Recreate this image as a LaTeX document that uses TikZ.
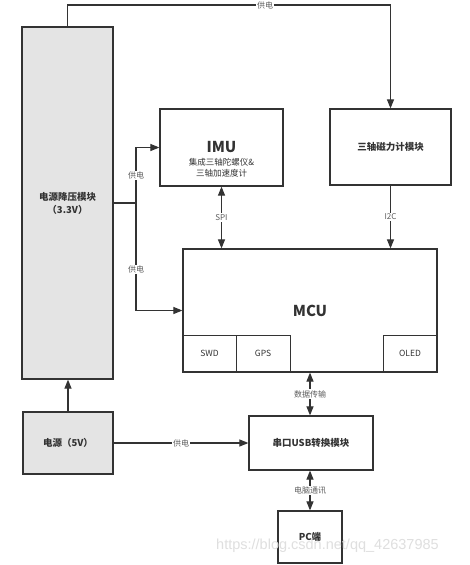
\documentclass[tikz,border=0pt]{standalone}
\usepackage{fontspec}
\setmainfont{Noto Sans CJK SC}
\newfontfamily\wmfont{Liberation Sans}
\usetikzlibrary{arrows.meta}
\definecolor{ln}{HTML}{333333}
\definecolor{gfill}{HTML}{E4E4E4}
\begin{document}
\begin{tikzpicture}[x=1pt,y=-1pt,
  box/.style={draw=ln,line width=1.2pt,inner sep=0pt,align=center,text=ln},
  gbox/.style={box,fill=gfill},
  sub/.style={draw=ln,line width=0.6pt,inner sep=0pt,font=\fontsize{8.5}{9}\selectfont,text=ln},
  title/.style={font=\fontsize{9.5}{13}\selectfont\bfseries,text=ln},
  big/.style={font=\fontsize{15}{17}\selectfont\bfseries,text=ln,inner sep=0pt},
  lbl/.style={fill=white,inner sep=1pt,font=\fontsize{8}{8}\selectfont,text=ln!80},
  conn/.style={draw=ln,line width=1.1pt},
  arr/.style={conn,-{Triangle[length=9pt,width=7pt]}},
  dbl/.style={conn,{Triangle[length=9pt,width=7pt]}-{Triangle[length=9pt,width=7pt]}}
]
\useasboundingbox[fill=white] (0,0) rectangle (469,565);
% boxes
\node[gbox,minimum width=91,minimum height=352,title] (pwr) at (67.5,203) {电源降压模块\\（3.3V）};
\node[box,minimum width=123,minimum height=77] (imu) at (221.5,147.5) {};
\node[big] (imut) at (221.5,147) {IMU};
\node[align=center,text=ln,inner sep=0pt,font=\fontsize{8.5}{11.5}\selectfont] (imus) at (221.5,168) {集成三轴陀螺仪\&\\三轴加速度计};
\node[box,minimum width=121,minimum height=76,title] (mag) at (390.5,147) {三轴磁力计模块};
\node[box,minimum width=254,minimum height=123] (mcu) at (310,310.5) {};
\node[big] (mcut) at (310,311) {MCU};
\node[sub,minimum width=53,minimum height=37] (swd) at (209.5,353.5) {SWD};
\node[sub,minimum width=54,minimum height=37] (gps) at (263,353.5) {GPS};
\node[sub,minimum width=54,minimum height=37] (oled) at (410,353.5) {OLED};
\node[gbox,minimum width=90,minimum height=62,title] (src) at (68,443) {电源（5V）};
\node[box,minimum width=124,minimum height=54,title] (usb) at (311,443) {串口USB转换模块};
\node[box,minimum width=64,minimum height=52,title] (pc) at (310,537) {PC端};
% connectors
\coordinate (tl) at (67.5,5);
\coordinate (tr) at (390.5,5);
\draw[arr] (pwr.north) -- (tl) -- node[lbl,pos=0.612]{供电} (tr) -- (mag.north);
\coordinate (br) at (136,203);
\draw[conn] (pwr.east |- br) -- (br);
\draw[arr] (br) |- node[lbl,pos=0.25]{供电} (imu.west);
\draw[arr] (br) |- node[lbl,pos=0.31]{供电} (mcu.west);
\draw[dbl] (imu.south) -- node[lbl]{SPI} (imu.south |- mcu.north);
\draw[arr] (mag.south) -- node[lbl]{I2C} (mag.south |- mcu.north);
\draw[dbl] (mcu.south) -- node[lbl]{数据传输} (mcu.south |- usb.north);
\draw[arr] (src.north) -- (src.north |- pwr.south);
\draw[arr] (src.east) -- node[lbl]{供电} (usb.west);
\draw[dbl] (pc.north) -- node[lbl]{电脑通讯} (pc.north |- usb.south);
% watermark
\node[text=gray!25,font=\wmfont\fontsize{14.5}{16}\selectfont,anchor=west,inner sep=0pt] (wm) at (216,546) {https://blog.csdn.net/qq\_42637985};
\end{tikzpicture}
\end{document}
